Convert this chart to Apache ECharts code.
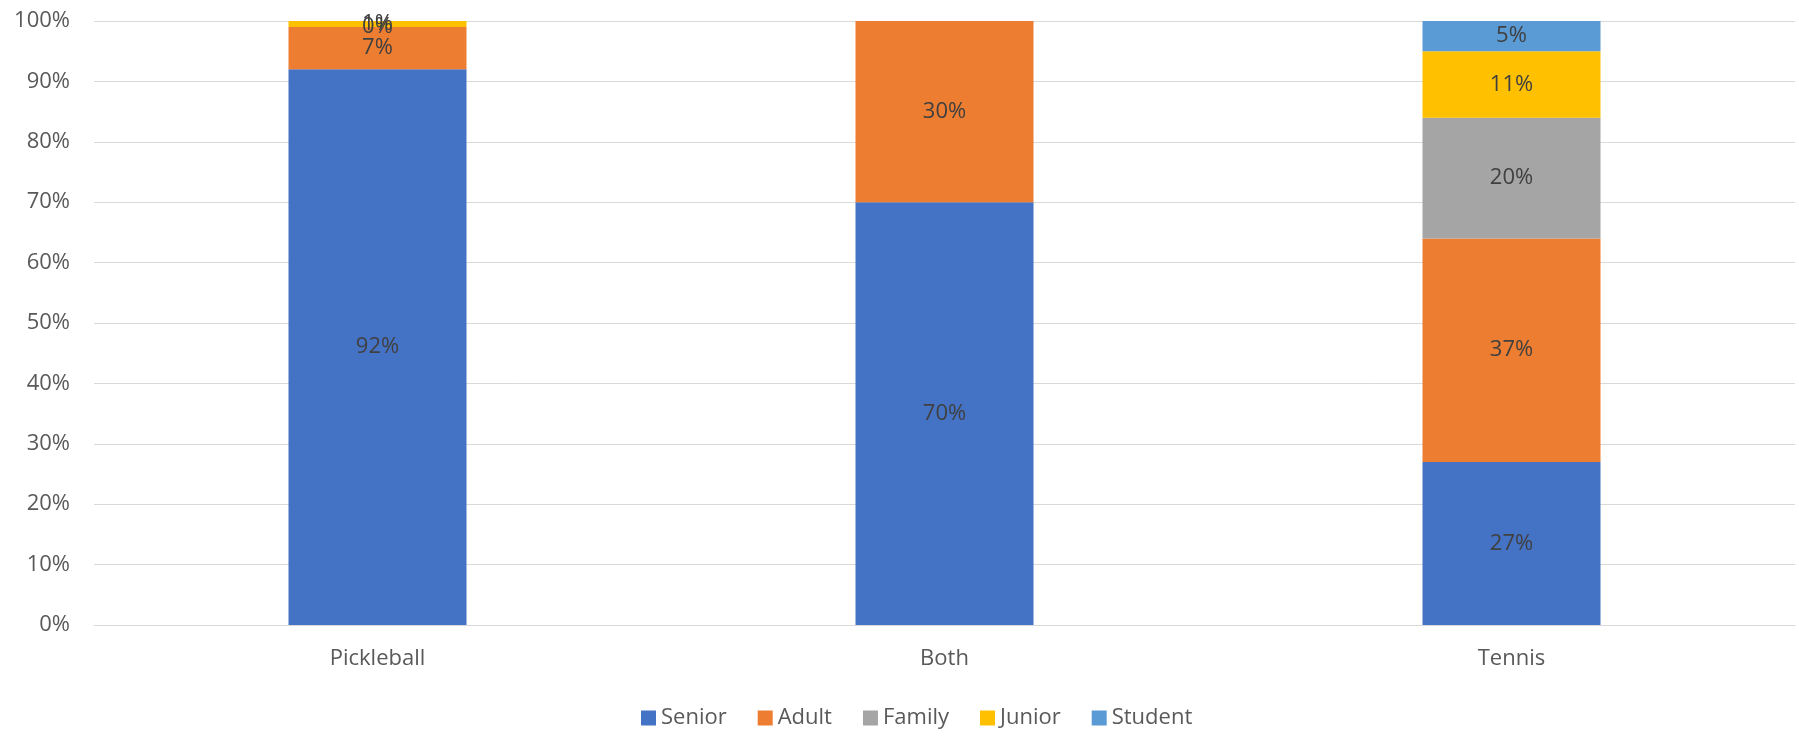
<!DOCTYPE html>
<html><head><meta charset="utf-8">
<script src="https://cdn.jsdelivr.net/npm/echarts@6/dist/echarts.min.js"></script>
<style>html,body{margin:0;padding:0;background:#fff}#c{width:1799px;height:736px}</style>
</head><body><div id="c"></div>
<script>
const categories = ['Pickleball', 'Both', 'Tennis'];
const senior  = [92, 70, 27];
const adult   = [7, 30, 37];
const family  = [0, null, 20];
const junior  = [1, null, 11];
const student = [null, null, 5];
const yTicks = [0, 10, 20, 30, 40, 50, 60, 70, 80, 90, 100];

const seriesDefs = [
  ['Senior', senior, '#4472C4'],
  ['Adult', adult, '#ED7D31'],
  ['Family', family, '#A5A5A5'],
  ['Junior', junior, '#FFC000'],
  ['Student', student, '#5B9BD5']
];
const font = '"Open Sans", sans-serif';
const fs = 22;
const chart = echarts.init(document.getElementById('c'), null, {renderer: 'canvas'});
chart.setOption({
  animation: false,
  textStyle: {fontFamily: font},
  grid: {left: 94, right: 4, top: 21, bottom: 111, containLabel: false},
  legend: {
    bottom: 2, left: 636, itemWidth: 15, itemHeight: 15, itemGap: 31,
    icon: 'rect',
    textStyle: {fontSize: fs, color: '#595959', fontFamily: font},
    data: seriesDefs.map(s => s[0])
  },
  xAxis: {
    type: 'category', data: categories,
    axisLine: {lineStyle: {color: '#D9D9D9', width: 1}},
    axisTick: {show: false},
    axisLabel: {fontSize: fs, color: '#595959', margin: 23, fontFamily: font}
  },
  yAxis: {
    type: 'value', min: yTicks[0], max: yTicks[yTicks.length - 1], interval: 10,
    axisLine: {show: false}, axisTick: {show: false},
    splitLine: {lineStyle: {color: '#D9D9D9', width: 1}},
    axisLabel: {fontSize: fs, color: '#595959', margin: 24, formatter: v => v + '%', fontFamily: font}
  },
  series: seriesDefs.map(([name, data, color]) => ({
    name, type: 'bar', stack: 'total', data, barWidth: 178,
    itemStyle: {color},
    label: {
      show: true, position: 'inside', fontSize: fs, color: '#404040', fontFamily: font,
      formatter: p => (p.value === null || p.value === undefined) ? '' : p.value + '%'
    }
  }))
});
</script></body></html>
